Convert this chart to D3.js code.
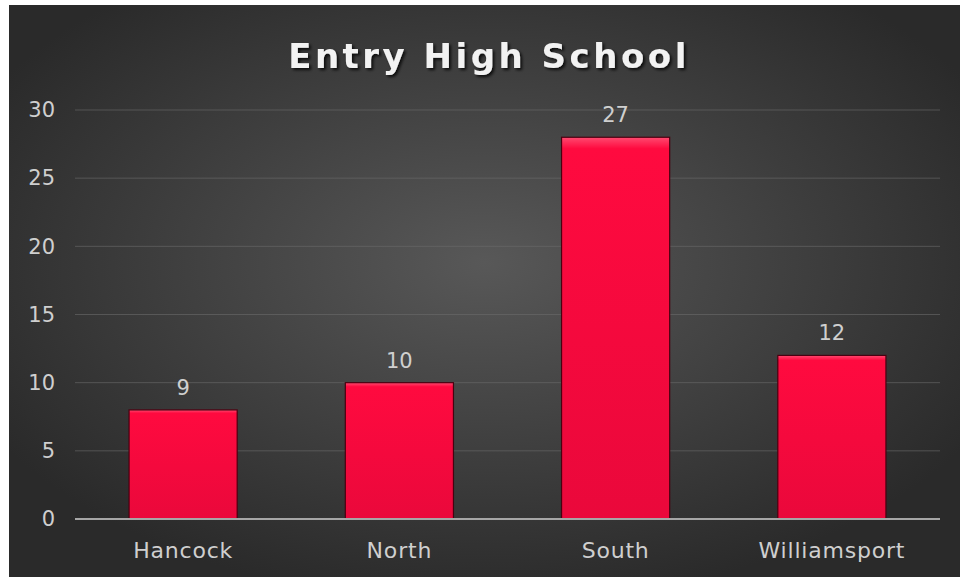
<!DOCTYPE html>
<html>
<head>
<meta charset="utf-8">
<script src="https://cdn.jsdelivr.net/npm/d3@7"></script>
<style>
  body { margin: 0; background: #fff; }
  svg { display: block; }
</style>
</head>
<body>
<svg id="chart"></svg>
<script>
const schools = ['Hancock', 'North', 'South', 'Williamsport']
const barValues = [8, 10, 28, 12]
const labelTexts = ['9', '10', '27', '12']
const yTicks = [0, 5, 10, 15, 20, 25, 30]
const title = 'Entry High School'

const W = 960, H = 577
const FONT = "'DejaVu Sans', sans-serif"
const svg = d3.select('#chart').attr('width', W).attr('height', H)
const defs = svg.append('defs')

// background glow
const bg = defs.append('radialGradient').attr('id', 'bg').attr('cx', '50%').attr('cy', '45%').attr('r', '60%')
bg.append('stop').attr('offset', '0%').attr('stop-color', '#585858')
bg.append('stop').attr('offset', '100%').attr('stop-color', '#2a2a2a')

const barGrad = defs.append('linearGradient').attr('id', 'bar').attr('x1', 0).attr('x2', 0).attr('y1', 0).attr('y2', 1)
barGrad.append('stop').attr('offset', '0%').attr('stop-color', '#ff4a70')
barGrad.append('stop').attr('offset', '3%').attr('stop-color', '#ff0a3f')
barGrad.append('stop').attr('offset', '100%').attr('stop-color', '#ea083b')

const shadow = defs.append('filter').attr('id', 'shadow')
shadow.append('feDropShadow').attr('dx', 2).attr('dy', 2).attr('stdDeviation', 1.5).attr('flood-color', '#000').attr('flood-opacity', 0.8)

svg.append('rect').attr('x', 9).attr('y', 5).attr('width', W - 9).attr('height', H - 5).attr('fill', 'url(#bg)')

const margin = {left: 75, right: 20, top: 110, bottom: 58}
const x = d3.scaleBand().domain(schools).range([margin.left, W - margin.right])
  .paddingInner(0.5).paddingOuter(0.25)
const y = d3.scaleLinear().domain([0, 30]).range([H - margin.bottom, margin.top])

// gridlines
svg.append('g').selectAll('line').data(yTicks.slice(1)).join('line')
  .attr('x1', margin.left).attr('x2', W - margin.right)
  .attr('y1', d => y(d)).attr('y2', d => y(d))
  .attr('stroke', '#6a6a6a').attr('stroke-opacity', 0.6).attr('stroke-width', 1)

// y axis labels
const yAxis = svg.append('g').attr('transform', `translate(${margin.left - 20},0)`)
  .call(d3.axisLeft(y).tickValues(yTicks).tickSize(0).tickPadding(0))
yAxis.select('.domain').remove()
yAxis.selectAll('text').attr('fill', '#cfcfcf').attr('font-size', 21)
  .attr('font-family', FONT)

// bars
svg.append('g').selectAll('rect').data(barValues).join('rect')
  .attr('x', (d, i) => x(schools[i]))
  .attr('y', d => y(d))
  .attr('width', x.bandwidth())
  .attr('height', d => y(0) - y(d))
  .attr('fill', 'url(#bar)')
  .attr('stroke', '#4a0010').attr('stroke-width', 1.2)

// baseline
svg.append('line').attr('x1', margin.left).attr('x2', W - margin.right)
  .attr('y1', y(0)).attr('y2', y(0)).attr('stroke', '#a6a6a6').attr('stroke-width', 2)

// x axis labels
const xAxis = svg.append('g').attr('transform', `translate(0,${y(0)})`)
  .call(d3.axisBottom(x).tickSize(0).tickPadding(23))
xAxis.select('.domain').remove()
xAxis.selectAll('text').attr('fill', '#cfcfcf').attr('font-size', 22)
  .attr('font-family', FONT).attr('letter-spacing', 0.8)

// data labels
svg.append('g').selectAll('text').data(barValues).join('text')
  .attr('x', (d, i) => x(schools[i]) + x.bandwidth() / 2)
  .attr('y', d => y(d) - 15)
  .attr('text-anchor', 'middle')
  .attr('fill', '#cfcfcf').attr('font-size', 21).attr('font-family', FONT)
  .text((d, i) => labelTexts[i])

// title
svg.append('text').attr('x', 489).attr('y', 68).attr('text-anchor', 'middle')
  .attr('fill', '#f2f2f2').attr('font-size', 34).attr('font-weight', 'bold')
  .attr('font-family', 'DejaVu Sans').attr('letter-spacing', 3.5)
  .attr('filter', 'url(#shadow)')
  .text(title)
</script>
</body>
</html>
